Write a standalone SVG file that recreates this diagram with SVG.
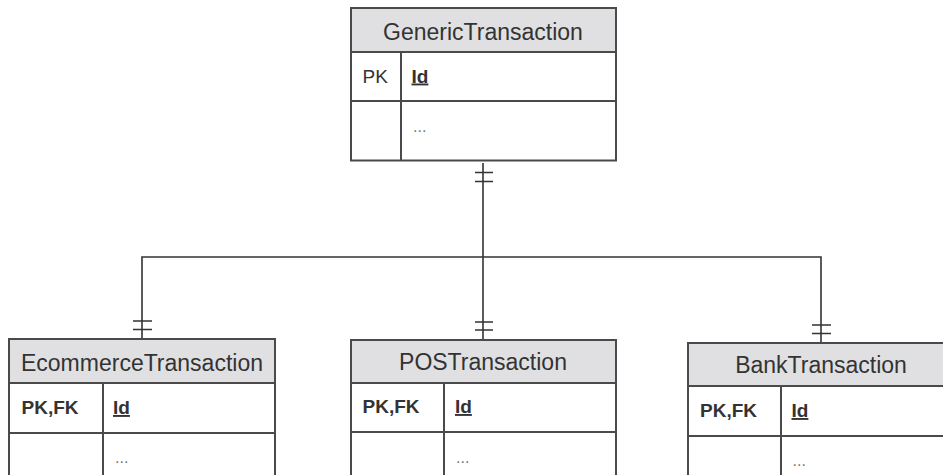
<svg xmlns="http://www.w3.org/2000/svg" width="943" height="475" viewBox="0 0 943 475">
<style>
.box{fill:#ffffff;stroke:#4a4a4a;stroke-width:2}
.hdr{fill:#e0e0e2;stroke:#4a4a4a;stroke-width:2}
.div{stroke:#4a4a4a;stroke-width:2;fill:none}
.title{font-family:"Liberation Sans",Arial,sans-serif;font-size:23px;fill:#333333;text-anchor:middle}
.key{font-family:"Liberation Sans",Arial,sans-serif;font-size:19px;fill:#333333}
.keyb{font-family:"Liberation Sans",Arial,sans-serif;font-size:19px;fill:#333333;font-weight:bold}
.id{font-family:"Liberation Sans",Arial,sans-serif;font-size:19px;fill:#333333;font-weight:bold;text-decoration:underline}
.dots{font-family:"Liberation Sans",Arial,sans-serif;font-size:16px;fill:#777777}
.conn{stroke:#333333;stroke-width:1.6;fill:none}
</style>
<rect width="943" height="475" fill="#ffffff"/>
<g id="connectors">
<path class="conn" d="M483 163 V340"/>
<path class="conn" d="M142 339 V257 H821 V343"/>
<path class="conn" d="M475 172.5 H493 M475 181.5 H493"/>
<path class="conn" d="M133 321 H152 M133 329.5 H152"/>
<path class="conn" d="M475 322 H493 M475 330 H493"/>
<path class="conn" d="M812 325 H831 M812 333.5 H831"/>
</g>
<g id="GenericTransaction">
<rect class="box" x="351" y="52" width="265" height="108.5"/>
<rect class="hdr" x="351" y="8" width="265" height="44"/>
<path class="div" d="M351 101 H616 M401 52 V160.5"/>
<text class="title" x="483" y="39.5">GenericTransaction</text>
<text class="key" x="362.5" y="82.5">PK</text>
<text class="id" x="411.5" y="82.5">Id</text>
<text class="dots" x="413" y="131.5">...</text>
</g>
<g id="EcommerceTransaction">
<rect class="box" x="9" y="383" width="266" height="100"/>
<rect class="hdr" x="9" y="339" width="266" height="44"/>
<path class="div" d="M9 433 H275 M103 383 V483"/>
<text class="title" x="142" y="370.5">EcommerceTransaction</text>
<text class="keyb" x="21.5" y="414">PK,FK</text>
<text class="id" x="113" y="414">Id</text>
<text class="dots" x="115" y="462.5">...</text>
</g>
<g id="POSTransaction">
<rect class="box" x="351" y="383" width="265" height="100"/>
<rect class="hdr" x="351" y="340" width="265" height="43"/>
<path class="div" d="M351 432 H616 M444 383 V483"/>
<text class="title" x="483" y="370">POSTransaction</text>
<text class="keyb" x="362.5" y="413">PK,FK</text>
<text class="id" x="455" y="413">Id</text>
<text class="dots" x="456" y="463">...</text>
</g>
<g id="BankTransaction">
<rect class="box" x="688" y="386" width="266" height="100"/>
<rect class="hdr" x="688" y="343" width="266" height="43"/>
<path class="div" d="M688 436 H954 M781 386 V486"/>
<text class="title" x="821" y="373">BankTransaction</text>
<text class="keyb" x="700" y="417">PK,FK</text>
<text class="id" x="791.5" y="417">Id</text>
<text class="dots" x="792.5" y="466">...</text>
</g>
</svg>
